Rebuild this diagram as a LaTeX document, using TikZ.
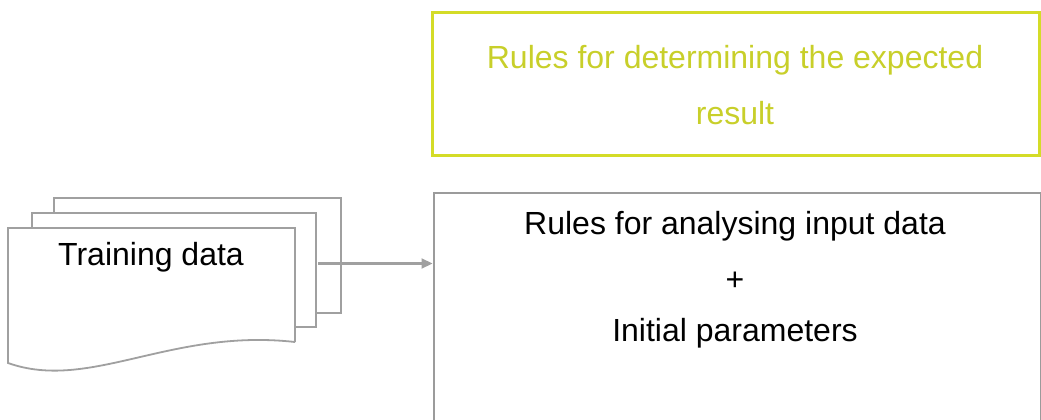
\documentclass[tikz,border=0pt]{standalone}
\usepackage{fontspec}
\setmainfont{Liberation Sans}
\usetikzlibrary{arrows.meta}
\definecolor{lime}{RGB}{212,220,40}
\definecolor{limetext}{RGB}{200,207,42}
\definecolor{boxgray}{RGB}{155,155,155}
\definecolor{docgray}{RGB}{160,160,160}
\tikzset{
  bigtext/.style={font=\fontsize{32}{53}\selectfont, text=black, inner sep=0pt},
  docline/.style={draw=docgray, line width=1.8pt, fill=white, line join=miter},
}
\begin{document}
\begin{tikzpicture}[x=1pt,y=-1pt]
\useasboundingbox (0,0) rectangle (1041,420);
% yellow box
\draw[draw=lime, line width=3pt] (432.5,13) rectangle (1039.5,155);
\node[bigtext, text=limetext] (ruleexp1) at (735,60) {Rules for determining the expected};
\node[bigtext, text=limetext] (ruleexp2) at (735,113) {result};
% gray box
\node[draw=boxgray, line width=2.4pt, anchor=north west, minimum width=607pt, minimum height=260pt, inner sep=0pt] (rules) at (432.5,192) {};
\node[bigtext] (r1) at (735,226) {Rules for analysing input data};
\node[bigtext] (r2) at (735,281) {+};
\node[bigtext] (r3) at (735,333) {Initial parameters};
% stacked documents
\draw[docline] (54,198) -- (341,198) -- (341,313) -- (54,313) -- cycle;
\draw[docline] (32,213) -- (316,213) -- (316,327) -- (32,327) -- cycle;
\draw[docline] (295,342) -- (295,228) -- (8,228) -- (8,363)
  .. controls (90,392) and (170,328) .. (295,342);
\node[bigtext] (train) at (151,257) {Training data};
\coordinate (arrstart) at (318,263.5);
\draw[draw=docgray, line width=2.2pt, -{Triangle[length=11pt,width=10pt]}] (arrstart) -- (rules.west |- arrstart);
\end{tikzpicture}
\end{document}
